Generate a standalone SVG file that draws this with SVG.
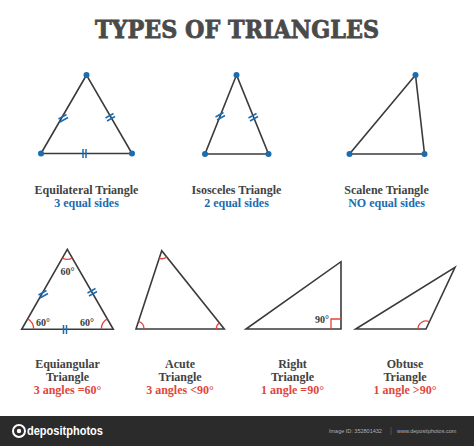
<svg xmlns="http://www.w3.org/2000/svg" width="474" height="446" viewBox="0 0 474 446">
<style>
.tri{fill:none;stroke:#3b3b3b;stroke-width:1.6;stroke-linejoin:miter}
.dot{fill:#1b6cb0}
.tick{stroke:#1b6cb0;stroke-width:1.5;fill:none}
.arc{stroke:#e0463c;stroke-width:1.3;fill:none}
.lbl{font-family:"Liberation Serif","DejaVu Serif",serif;font-weight:bold;font-size:12px;fill:#424242;text-anchor:middle;stroke:currentColor;stroke-width:0}
.blue{fill:#1b6cb0}
.red{fill:#e0463c}
.deg{font-family:"Liberation Serif","DejaVu Serif",serif;font-weight:bold;font-size:10px;fill:#3b3b3b;text-anchor:middle}
</style>
<rect width="474" height="446" fill="#ffffff"/>
<text x="237" y="38" font-family="'DejaVu Serif',serif" font-weight="bold" font-size="24" fill="#4a4a4a" stroke="#4a4a4a" stroke-width="0.8" text-anchor="middle" textLength="284" lengthAdjust="spacingAndGlyphs">TYPES OF TRIANGLES</text>

<g id="equilateral">
<polygon class="tri" points="86.5,75 41,153.5 132,153.5"/>
<path class="tick" d="M58.5,119 l8,-4.5 M60,122 l8,-4.5"/>
<path class="tick" d="M105.5,118 l8,-4.5 M107,121 l8,-4.5"/>
<path class="tick" d="M83,149 v9 M86,149 v9"/>
<circle class="dot" cx="86.5" cy="75" r="3"/>
<circle class="dot" cx="41" cy="153.5" r="3"/>
<circle class="dot" cx="132" cy="153.5" r="3"/>
<text class="lbl" x="86.5" y="194">Equilateral Triangle</text>
<text class="lbl blue" x="86.5" y="207">3 equal sides</text>
</g>

<g id="isosceles">
<polygon class="tri" points="236.5,75 205,154 268.5,154"/>
<path class="tick" d="M215.5,117 l8,-4.5 M217,120 l8,-4.5"/>
<path class="tick" d="M248.5,118 l8,-4.5 M250,121 l8,-4.5"/>
<circle class="dot" cx="236.5" cy="75" r="3"/>
<circle class="dot" cx="205" cy="154" r="3"/>
<circle class="dot" cx="268.5" cy="154" r="3"/>
<text class="lbl" x="236.5" y="194">Isosceles Triangle</text>
<text class="lbl blue" x="236.5" y="207">2 equal sides</text>
</g>

<g id="scalene">
<polygon class="tri" points="415.5,75 349.5,154 424.5,154"/>
<circle class="dot" cx="415.5" cy="75" r="3"/>
<circle class="dot" cx="349.5" cy="154" r="3"/>
<circle class="dot" cx="424.5" cy="154" r="3"/>
<text class="lbl" x="386.5" y="194">Scalene Triangle</text>
<text class="lbl blue" x="386.5" y="207">NO equal sides</text>
</g>

<g id="equiangular">
<polygon class="tri" points="67.3,249.3 21.7,329.3 113.3,329.3"/>
<path class="arc" d="M62.35,258 A10,10 0 0 0 72.25,258"/>
<path class="arc" d="M33.7,329.3 A12,12 0 0 0 27.64,318.87"/>
<path class="arc" d="M101.3,329.3 A12,12 0 0 1 107.36,318.87"/>
<path class="tick" d="M38.5,295 l8,-4.5 M40,298 l8,-4.5"/>
<path class="tick" d="M87.5,293 l8,-4.5 M89,296 l8,-4.5"/>
<path class="tick" d="M63.5,325 v9 M66.5,325 v9"/>
<text class="deg" x="67.5" y="275">60°</text>
<text class="deg" x="43" y="326">60°</text>
<text class="deg" x="87" y="326">60°</text>
<text class="lbl" x="67.5" y="368">Equiangular</text>
<text class="lbl" x="67.5" y="381">Triangle</text>
<text class="lbl red" x="67.5" y="394">3 angles =60°</text>
</g>

<g id="acute">
<polygon class="tri" points="161.7,250.7 136,329 224.3,329"/>
<path class="arc" d="M159.2,258.3 A8,8 0 0 0 166.7,256.95"/>
<path class="arc" d="M144,329 A8,8 0 0 0 138.5,321.4"/>
<path class="arc" d="M216.3,329 A8,8 0 0 1 219.3,322.75"/>
<text class="lbl" x="180" y="368">Acute</text>
<text class="lbl" x="180" y="381">Triangle</text>
<text class="lbl red" x="180" y="394">3 angles &lt;90°</text>
</g>

<g id="right">
<polygon class="tri" points="246,329 341,329 341,261.7"/>
<path class="arc" d="M331,329 V319 H341"/>
<text class="deg" x="322" y="323">90°</text>
<text class="lbl" x="292.5" y="368">Right</text>
<text class="lbl" x="292.5" y="381">Triangle</text>
<text class="lbl red" x="292.5" y="394">1 angle =90°</text>
</g>

<g id="obtuse">
<polygon class="tri" points="355.7,329 426,329 455,267.3"/>
<path class="arc" d="M418,329 A8,8 0 0 1 429.4,321.76"/>
<text class="lbl" x="405" y="368">Obtuse</text>
<text class="lbl" x="405" y="381">Triangle</text>
<text class="lbl red" x="405" y="394">1 angle &gt;90°</text>
</g>

<g id="footer">
<rect x="0" y="416" width="474" height="30" fill="#2b2b2b"/>
<circle cx="19" cy="431" r="6" fill="none" stroke="#ffffff" stroke-width="2"/>
<circle cx="19" cy="431" r="2.2" fill="#ffffff"/>
<text x="27" y="435" font-family="'Liberation Sans',sans-serif" font-weight="bold" font-size="12" fill="#ffffff" textLength="76" lengthAdjust="spacingAndGlyphs">depositphotos</text>
<text x="329" y="433" font-family="'Liberation Sans',sans-serif" font-size="5.5" fill="#b0b0b0">Image ID: 352801432</text>
<line x1="391" y1="427" x2="391" y2="435" stroke="#666666" stroke-width="0.6"/>
<text x="397" y="433" font-family="'Liberation Sans',sans-serif" font-size="5.5" fill="#b0b0b0">www.depositphotos.com</text>
</g>
</svg>
